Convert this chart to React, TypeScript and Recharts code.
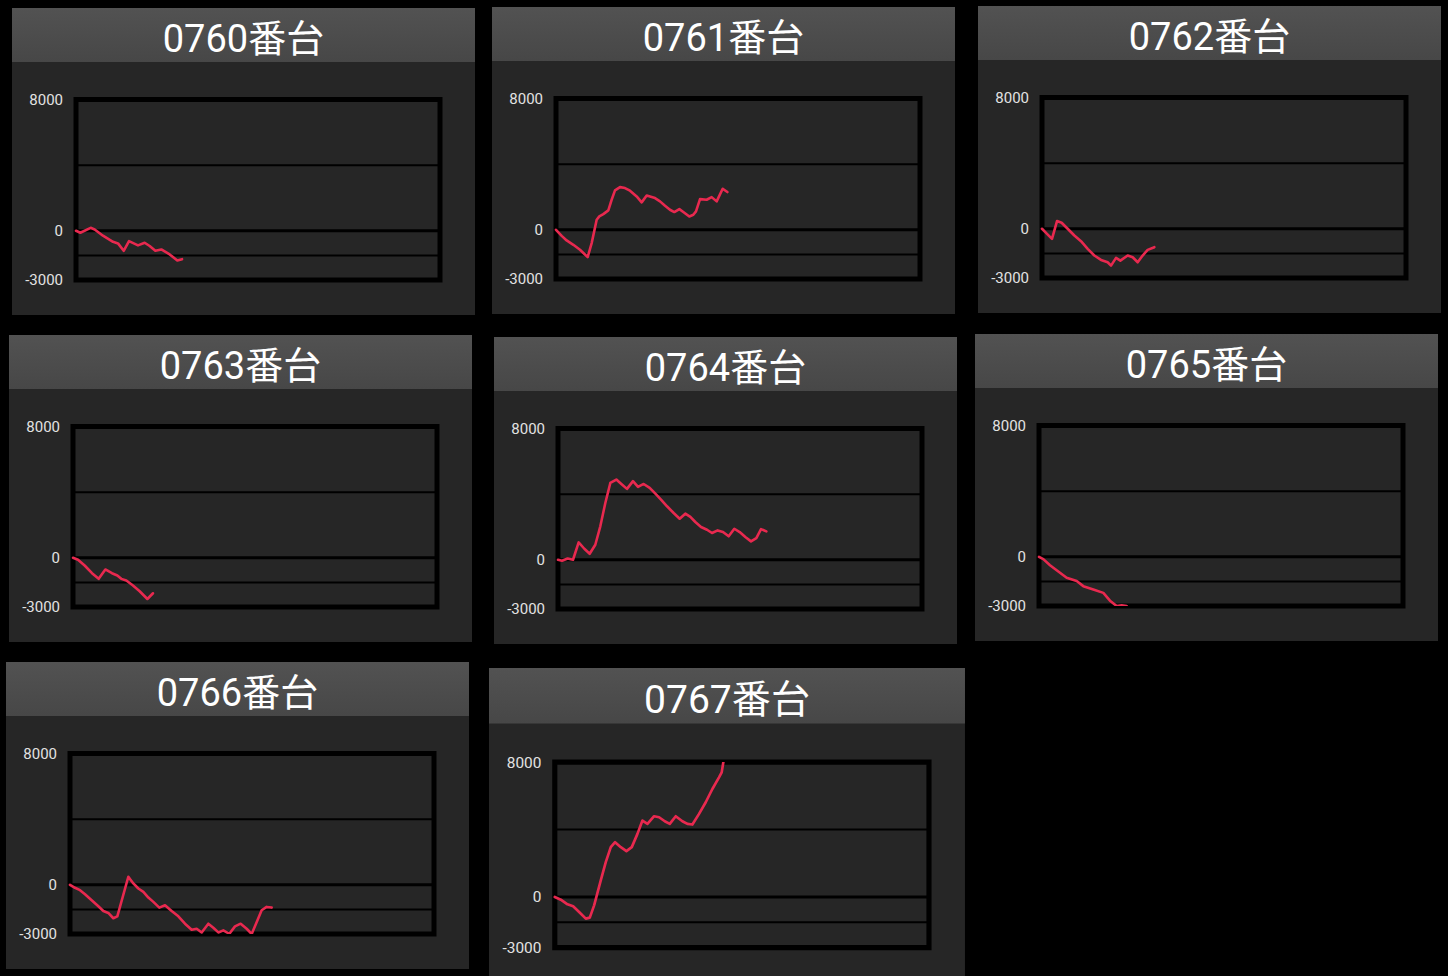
import {
  LineChart,
  Line,
  XAxis,
  YAxis,
  ReferenceLine,
  ReferenceArea,
} from "recharts";

// [games, diff coins]
const m0760 = [
  [0, 0], [95, -120], [322, 180], [410, 80], [593, -300], [813, -670], [923, -770],
  [1048, -1220], [1165, -630], [1363, -890], [1509, -730], [1619, -930], [1744, -1220],
  [1875, -1140], [2059, -1440], [2227, -1810], [2330, -1730],
];
const m0761 = [
  [0, 0], [125, -370], [234, -650], [381, -915], [527, -1220], [696, -1667], [784, -813],
  [894, 610], [952, 813], [1040, 955], [1150, 1180], [1223, 1830], [1297, 2400],
  [1407, 2600], [1516, 2540], [1626, 2380], [1773, 2030], [1883, 1670], [1993, 2090],
  [2176, 1930], [2286, 1730], [2396, 1460], [2505, 1220], [2600, 1080], [2711, 1260],
  [2798, 1080], [2930, 810], [3018, 915], [3077, 1120], [3165, 1870], [3311, 1830],
  [3421, 1990], [3531, 1730], [3663, 2500], [3766, 2300],
];
const m0762 = [
  [0, 0], [110, -306], [220, -612], [330, 470], [432, 367], [564, 0], [711, -408],
  [857, -755], [1004, -1224], [1150, -1630], [1297, -1900], [1443, -2040], [1517, -2245],
  [1627, -1775], [1722, -1940], [1883, -1630], [1993, -1735], [2103, -2040],
  [2212, -1630], [2322, -1285], [2469, -1122],
];
const m0763 = [
  [0, 0], [110, -122], [256, -470], [418, -940], [564, -1285], [711, -714], [857, -940],
  [974, -1080], [1062, -1285], [1172, -1390], [1318, -1694], [1465, -2040],
  [1634, -2510], [1758, -2163],
];
const m0764 = [
  [0, 0], [88, -60], [212, 80], [330, 0], [454, 1060], [579, 672], [696, 367], [820, 916],
  [930, 2040], [1040, 3460], [1150, 4680], [1282, 4890], [1392, 4620], [1516, 4320],
  [1648, 4790], [1758, 4440], [1883, 4620], [2015, 4380], [2140, 4030], [2264, 3670],
  [2396, 3260], [2542, 2850], [2674, 2500], [2798, 2810], [2909, 2610], [3018, 2300],
  [3143, 2000], [3275, 1830], [3385, 1630], [3509, 1790], [3626, 1690], [3751, 1430],
  [3875, 1890], [3993, 1690], [4117, 1385], [4242, 1120], [4359, 1320], [4462, 1870],
  [4579, 1730],
];
const m0765 = [
  [0, 0], [95, -144], [242, -514], [388, -823], [608, -1276], [828, -1481], [974, -1790],
  [1194, -1996], [1414, -2200], [1560, -2675], [1707, -3000], [1817, -2950], [1927, -3000],
];
const m0766 = [
  [0, 0], [110, -184], [220, -327], [330, -573], [476, -940], [623, -1310], [733, -1595],
  [842, -1718], [952, -2040], [1040, -1922], [1282, 490], [1392, 82], [1502, -225],
  [1612, -429], [1722, -777], [1832, -1043], [1963, -1390], [2088, -1247], [2234, -1595],
  [2381, -1922], [2527, -2372], [2674, -2740], [2784, -2679], [2894, -2904], [3040, -2372],
  [3150, -2618], [3260, -2904], [3370, -2781], [3502, -2986], [3626, -2536], [3751, -2372],
  [3883, -2679], [3993, -3000], [4088, -2372], [4212, -1554], [4322, -1350], [4432, -1390],
];
const m0767 = [
  [0, 0], [128, -158], [271, -433], [392, -552], [520, -887], [663, -1281], [748, -1222],
  [841, -493], [983, 985], [1090, 2069], [1197, 2956], [1289, 3251], [1411, 2956],
  [1532, 2719], [1646, 2956], [1767, 3744], [1874, 4532], [1981, 4335], [2123, 4788],
  [2230, 4729], [2351, 4493], [2458, 4335], [2586, 4788], [2728, 4493], [2835, 4335],
  [2942, 4296], [3084, 4926], [3227, 5616], [3369, 6404], [3511, 7094], [3568, 7389],
  [3604, 8000],
];

const machineNos = ["0760", "0761", "0762", "0763", "0764", "0765", "0766", "0767"];
const machineData = [m0760, m0761, m0762, m0763, m0764, m0765, m0766, m0767];

const yTicks = [8000, 0, -3000];
const gridLines = [4000, -1500];
const maxGames = 8000;

// where each panel sits in the screenshot
const panelPos = [
  { left: 12, top: 8, scale: 1 },
  { left: 492, top: 7, scale: 1 },
  { left: 978, top: 6, scale: 1 },
  { left: 9, top: 335, scale: 1 },
  { left: 494, top: 337, scale: 1 },
  { left: 975, top: 334, scale: 1 },
  { left: 6, top: 662, scale: 1 },
  { left: 489, top: 668, scale: 1.028 },
];

const PANEL_W = 463;
const PANEL_H = 307;
const HEAD_H = 54;

function Panel({ no, points, left, top, scale }) {
  const data = points.map(([g, v]) => ({ g, v }));
  return (
    <div
      style={{
        position: "absolute",
        left,
        top,
        width: PANEL_W,
        height: PANEL_H,
        background: "#262626",
        transform: `scale(${scale})`,
        transformOrigin: "0 0",
      }}
    >
      <div
        style={{
          position: "relative",
          height: HEAD_H,
          background: "linear-gradient(#525252, #474747)",
        }}
      >
        <div
          style={{
            position: "absolute",
            left: 0,
            right: 0,
            top: 4,
            textAlign: "center",
            color: "#fff",
            fontSize: 38,
            lineHeight: "54px",
            fontFamily: "Roboto, 'Noto Sans CJK JP', sans-serif",
            whiteSpace: "nowrap",
          }}
        >
          {no}番台
        </div>
      </div>
      <LineChart
        width={PANEL_W}
        height={PANEL_H - HEAD_H}
        data={data}
        margin={{ top: 37.5, right: 35, bottom: 35, left: 0 }}
      >
        <XAxis type="number" dataKey="g" domain={[0, maxGames]} hide />
        <YAxis
          type="number"
          domain={[-3000, 8000]}
          ticks={yTicks}
          interval={0}
          width={64}
          allowDataOverflow
          axisLine={false}
          tickLine={false}
          tickMargin={7}
          tick={{ fill: "#e2e2e2", fontSize: 15, fontFamily: "Roboto" }}
        />
        {gridLines.map((y) => (
          <ReferenceLine key={y} y={y} stroke="#000" strokeWidth={2} />
        ))}
        <ReferenceLine y={0} stroke="#000" strokeWidth={3} />
        <ReferenceArea
          x1={0}
          x2={maxGames}
          y1={-3000}
          y2={8000}
          fill="none"
          stroke="#000"
          strokeWidth={5}
          fillOpacity={0}
          ifOverflow="visible"
        />
        <Line
          type="linear"
          dataKey="v"
          stroke="#e8294f"
          strokeWidth={2.6}
          strokeLinejoin="round"
          strokeLinecap="round"
          dot={false}
          activeDot={false}
          isAnimationActive={false}
        />
      </LineChart>
    </div>
  );
}

export default function App() {
  return (
    <div
      style={{
        position: "absolute",
        left: 0,
        top: 0,
        width: 1448,
        height: 976,
        background: "#000",
        overflow: "hidden",
      }}
    >
      {machineNos.map((no, i) => (
        <Panel key={no} no={no} points={machineData[i]} {...panelPos[i]} />
      ))}
    </div>
  );
}
